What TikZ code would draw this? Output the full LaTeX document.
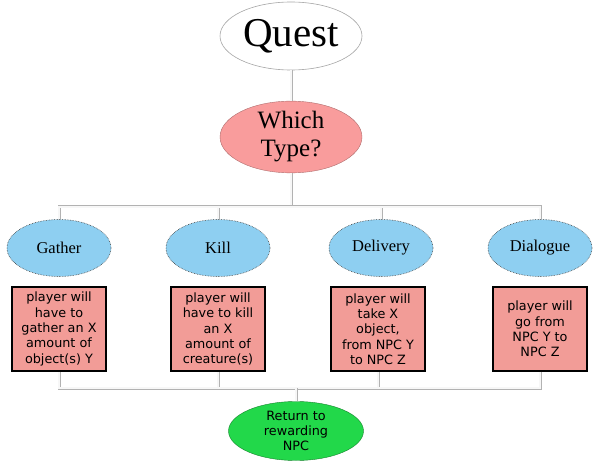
\documentclass[tikz,border=0pt]{standalone}
\usepackage{fontspec}
\setmainfont{Liberation Serif}
\newfontfamily\boxfont{DejaVu Sans}
\usetikzlibrary{shapes.geometric}
\definecolor{skyb}{HTML}{8ECFF1}
\definecolor{pinkell}{HTML}{F99C9C}
\definecolor{boxfill}{HTML}{F29C97}
\definecolor{greenell}{HTML}{22D84A}
\tikzset{
  pipe/.style={draw=gray!60, double=gray!6, double distance=1.8pt, line width=0.6pt},
  typeell/.style={ellipse, fill=skyb, draw=black!75, densely dotted, line width=0.6pt,
    minimum width=104pt, minimum height=57pt, inner sep=0pt,
    font=\fontsize{16.5}{18}\selectfont},
  descbox/.style={rectangle, fill=boxfill, draw=black, line width=1.6pt,
    minimum width=94pt, minimum height=84pt, inner sep=1pt, align=center,
    font=\boxfont\fontsize{12.8}{15.3}\selectfont},
}
\begin{document}
\begin{tikzpicture}[x=1pt,y=-1pt]
\useasboundingbox (0,0) rectangle (600,465);
\node[ellipse, fill=white, draw=gray!70, line width=0.6pt, minimum width=142pt, minimum height=68pt, inner sep=0pt,
  font=\fontsize{41}{42}\selectfont] (quest) at (291,36) {Quest};
\node[ellipse, fill=pinkell, draw=pinkell!70!black, line width=0.4pt, minimum width=142pt, minimum height=69pt, inner sep=0pt,
  align=center, font=\fontsize{25}{28}\selectfont] (which) at (291,137) {Which\\Type?};
\node[typeell] (gather) at (59,248) {Gather};
\node[typeell] (kill) at (218,248) {Kill};
\node[typeell] (deliv) at (381,248) {Delivery};
\node[typeell] (dialog) at (540,248) {Dialogue};
\node[descbox] (gbox) at (59,329) {player will\\have to\\gather an X\\amount of\\object(s) Y};
\node[descbox] (kbox) at (218,329) {player will\\have to kill\\an X\\amount of\\creature(s)};
\node[descbox] (dbox) at (378,329) {player will\\take X\\object,\\from NPC Y\\to NPC Z};
\node[descbox] (lbox) at (540,329) {player will\\go from\\NPC Y to\\NPC Z};
\node[ellipse, fill=greenell, draw=greenell!60!black, line width=0.4pt, minimum width=135pt, minimum height=59pt, inner sep=0pt,
  align=center, font=\boxfont\fontsize{12.8}{15.3}\selectfont] (ret) at (296,431) {Return to\\rewarding\\NPC};
\coordinate (bus) at (291,207);
\coordinate (bot) at (296,388);
\draw[pipe] (quest.south) -- (which.north);
\draw[pipe] (which.south) -- (bus);
\draw[pipe] (bus) -| (gather.north);
\draw[pipe] (bus) -| (kill.north);
\draw[pipe] (bus) -| (deliv.north);
\draw[pipe] (bus) -| (dialog.north);
\draw[pipe] (gbox.south) |- (bot);
\draw[pipe] (kbox.south) |- (bot);
\draw[pipe] (dbox.south) |- (bot);
\draw[pipe] (lbox.south) |- (bot);
\draw[pipe] (bot) -- (ret.north);
\end{tikzpicture}
\end{document}
